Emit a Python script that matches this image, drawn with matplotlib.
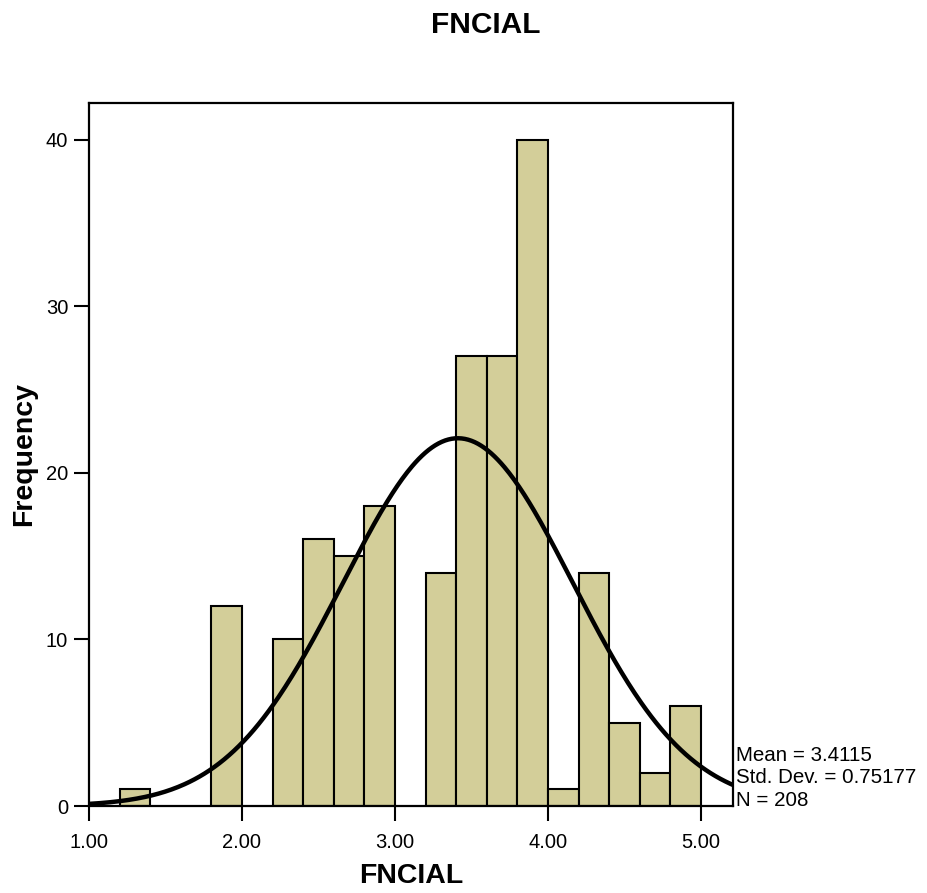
import numpy as np
import matplotlib
matplotlib.use("Agg")
import matplotlib.pyplot as plt

plt.rcParams['font.family'] = ['Liberation Sans', 'DejaVu Sans']

# bin edges (width 0.2) and counts
bin_left = [1.2, 1.8, 2.2, 2.4, 2.6, 2.8, 3.2, 3.4, 3.6, 3.8, 4.0, 4.2, 4.4, 4.6, 4.8]
counts = [1, 12, 10, 16, 15, 18, 14, 27, 27, 40, 1, 14, 5, 2, 6]
bin_width = 0.2

mean = 3.4115
std = 0.75177
n = 208

xticks = [1.0, 2.0, 3.0, 4.0, 5.0]
yticks = [0, 10, 20, 30, 40]

fig = plt.figure(figsize=(9.28, 8.93), dpi=100)
ax = fig.add_axes([0.0959, 0.0974, 0.694, 0.7873])

ax.bar(bin_left, counts, width=bin_width, align='edge',
       color='#D3CE99', edgecolor='black', linewidth=1.5, zorder=2)

# normal curve scaled to counts
xs = np.linspace(1.0, 5.3, 400)
ys = n * bin_width / (std * np.sqrt(2 * np.pi)) * np.exp(-0.5 * ((xs - mean) / std) ** 2)
ax.plot(xs, ys, color='black', linewidth=3.2, zorder=3)

ax.set_xlim(1.0, 5.21)
ax.set_ylim(0, 42.2)
ax.set_xticks(xticks)
ax.set_xticklabels([f"{v:.2f}" for v in xticks])
ax.set_yticks(yticks)
ax.tick_params(direction='out', length=11, width=1.5, labelsize=14.5, pad=4)
ax.tick_params(axis='x', pad=8.5)
for s in ax.spines.values():
    s.set_linewidth(1.6)

ax.set_xlabel('FNCIAL', fontsize=20.5, fontweight='bold', labelpad=8)
ax.set_ylabel('Frequency', fontsize=20.5, fontweight='bold', labelpad=6.5)
fig.suptitle('FNCIAL', fontsize=21.5, fontweight='bold', x=0.523, y=0.988)

ax.text(1.005, -0.006, f"Mean = {mean:.4f}\nStd. Dev. = {std:.5f}\nN = {n}",
        transform=ax.transAxes, ha='left', va='bottom', fontsize=14.8,
        linespacing=1.25)

fig.savefig('out.png', dpi=100)
